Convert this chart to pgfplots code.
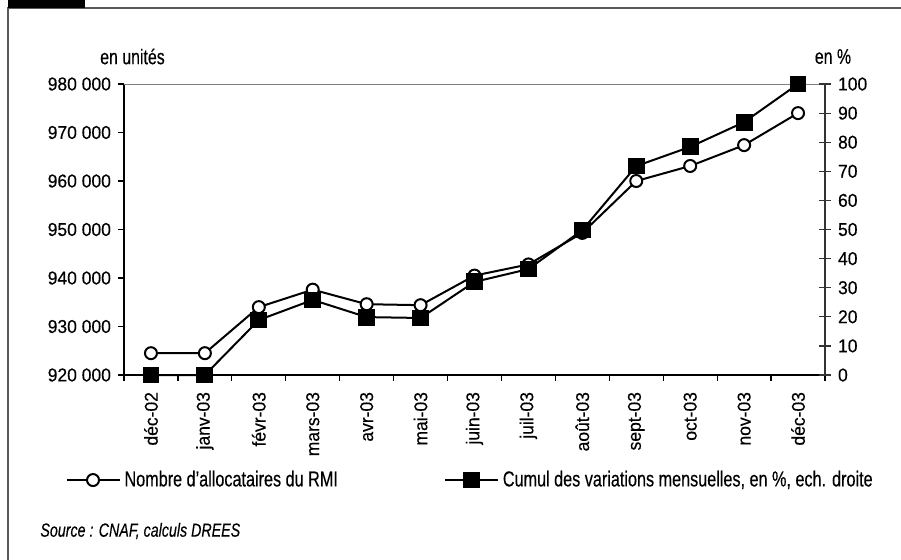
\documentclass[border=0pt]{standalone}
\usepackage{pgfplots}
\pgfplotsset{compat=1.18}
\usepackage{fontspec}
\setmainfont{Liberation Sans}[FakeStretch=0.75, FakeBold=0.3]
\newfontfamily\tickfont{Liberation Sans}[FakeStretch=0.94, FakeBold=0.3]
\begin{document}
\begin{tikzpicture}
\useasboundingbox (0,0) rectangle (450.5pt,-279.5pt);
\draw[gray!70!black, line width=0.6pt] (4pt,-285pt) -- (4pt,-4pt) -- (455pt,-4pt);
\fill[black] (4pt,0) rectangle (42.5pt,-4pt);
\node[font=\fontsize{10.6}{12}\selectfont] at (66.25pt,-28.25pt) {en unités};
\node[font=\fontsize{10.6}{12}\selectfont] at (416.5pt,-28.25pt) {en \%};
\node[anchor=west, inner sep=0pt, font=\itshape\fontsize{9.5}{12}\selectfont] at (20pt,-265.5pt) {Source : CNAF, calculs DREES};

\begin{axis}[
  at={(62pt,-187.5pt)}, anchor=south west,
  width=350.5pt, height=145.5pt, scale only axis,
  xmin=-0.5, xmax=12.5, ymin=920000, ymax=980000,
  axis x line*=bottom, axis y line*=left,
  axis line style={-, line width=0.7pt},
  tick align=outside,
  xtick={0,...,12},
  xticklabels={déc-02,janv-03,févr-03,mars-03,avr-03,mai-03,juin-03,juil-03,août-03,sept-03,oct-03,nov-03,déc-03},
  major x tick style={draw=none},
  minor xtick={-0.5,0.5,...,12.5},
  minor x tick style={black, line width=0.6pt},
  minor tick length=3pt,
  major tick length=3pt,
  xticklabel shift=2pt,
  y tick style={black, line width=0.6pt},
  x tick label style={rotate=90, anchor=east, font=\tickfont\fontsize{9.3}{11}\selectfont},
  ytick={920000,930000,...,980000},
  yticklabels={920 000,930 000,940 000,950 000,960 000,970 000,980 000},
  scaled y ticks=false,
  y tick label style={font=\tickfont\fontsize{9.3}{11}\selectfont},
  clip=false,
]
\addplot[black, line width=1pt, mark=*, mark size=3pt, mark options={fill=white, line width=1pt}]
  coordinates {(0,924500)(1,924500)(2,934000)(3,937600)(4,934600)(5,934400)(6,940500)(7,942800)(8,949300)(9,960000)(10,963100)(11,967400)(12,974000)};
\draw[gray, line width=0.5pt] (rel axis cs:0,1) -- (rel axis cs:1,1);
\end{axis}

\begin{axis}[
  at={(62pt,-187.5pt)}, anchor=south west,
  width=350.5pt, height=145.5pt, scale only axis,
  xmin=-0.5, xmax=12.5, ymin=0, ymax=100,
  axis x line=none, axis y line*=right,
  axis line style={-, line width=0.7pt, black!80},
  tick align=center, major tick length=6pt,
  y tick style={black!80, line width=0.6pt},
  ytick={0,10,...,100},
  yticklabels={0,10,20,30,40,50,60,70,80,90,100},
  y tick label style={font=\tickfont\fontsize{9.3}{11}\selectfont},
  clip=false,
  legend columns=2,
  legend style={at={(axis description cs:-0.084,-0.361)}, anchor=west, draw=none, fill=none, inner sep=0pt,
     font=\fontsize{10.8}{12}\selectfont, /tikz/every even column/.append style={column sep=51pt}},
  legend cell align=left,
  legend image code/.code={\draw[mark repeat=2,mark phase=2,#1] plot coordinates {(0pt,0pt)(13.25pt,0pt)(26.5pt,0pt)};},
]
\addlegendimage{black, line width=1pt, mark=*, mark size=3pt, mark options={fill=white, line width=1pt}}
\addlegendentry{Nombre d'allocataires du RMI}
\addplot[black, line width=1pt, mark=square*, mark size=3.7pt, mark options={fill=black}]
  coordinates {(0,0)(1,0)(2,18.9)(3,25.8)(4,19.9)(5,19.6)(6,32)(7,36.4)(8,49.8)(9,71.8)(10,78.4)(11,86.9)(12,100)};
\addlegendentry{Cumul des variations mensuelles, en \%, ech. droite}
\end{axis}
\end{tikzpicture}
\end{document}
